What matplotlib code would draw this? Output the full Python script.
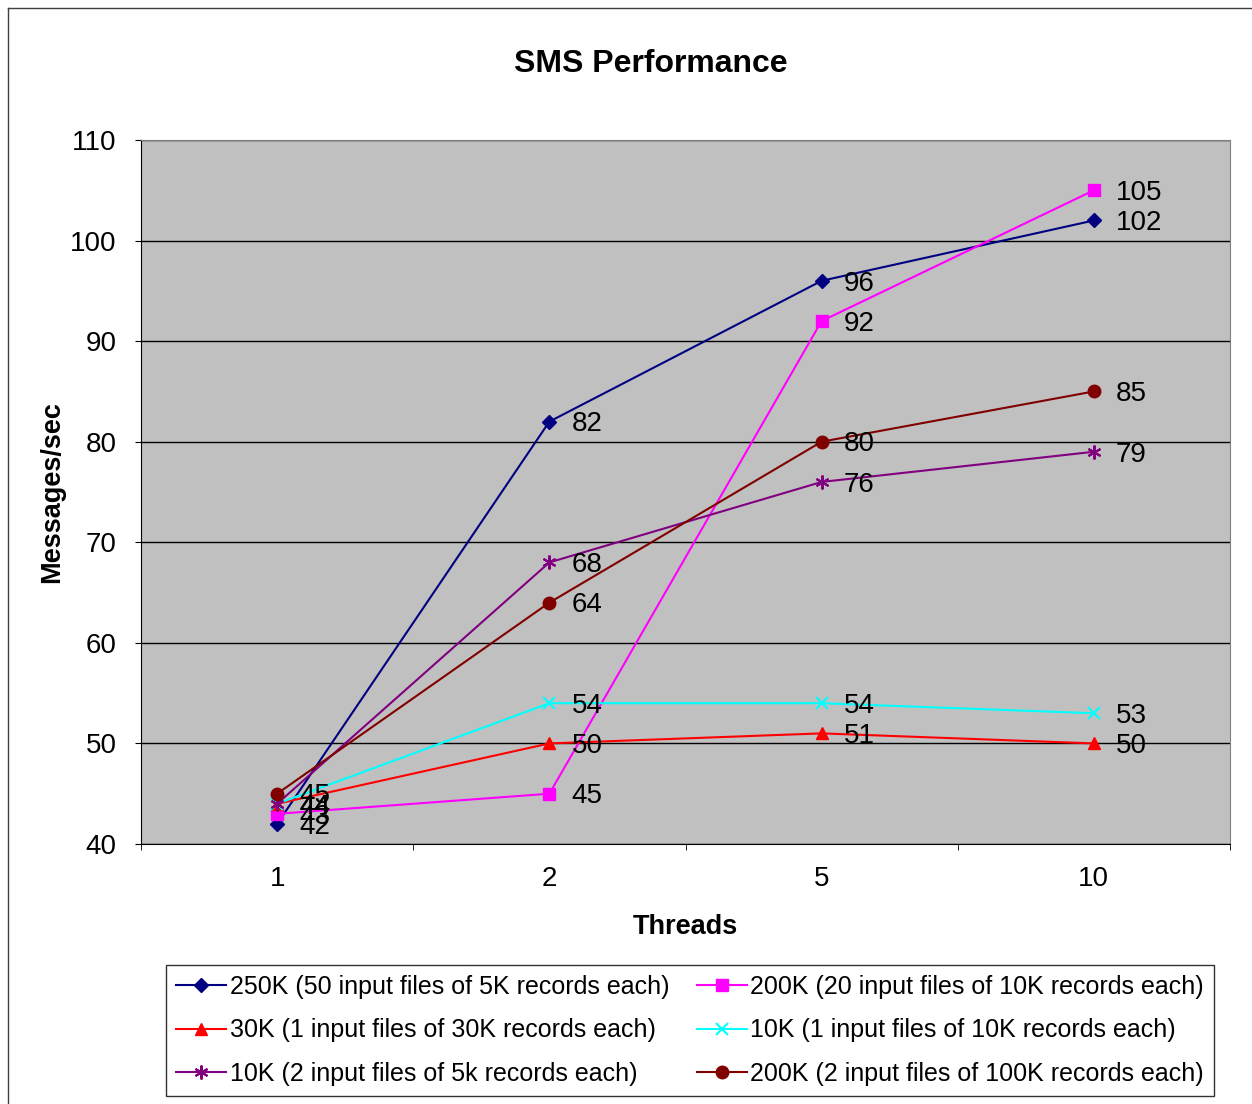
import matplotlib
matplotlib.use("Agg")
import matplotlib.pyplot as plt
from matplotlib.lines import Line2D

plt.rcParams['font.family'] = ['Liberation Sans', 'DejaVu Sans']

threads = ["1", "2", "5", "10"]
s250k = [42, 82, 96, 102]
s200k_20 = [43, 45, 92, 105]
s30k = [44, 50, 51, 50]
s10k_1 = [44, 54, 54, 53]
s10k_2 = [44, 68, 76, 79]
s200k_2 = [45, 64, 80, 85]

series = [
    ("250K (50 input files of 5K records each)", s250k, "#000080", "D", 7),
    ("200K (20 input files of 10K records each)", s200k_20, "#FF00FF", "s", 9),
    ("30K (1 input files of 30K records each)", s30k, "#FF0000", "^", 9),
    ("10K (1 input files of 10K records each)", s10k_1, "#00FFFF", "x", 9),
    ("10K (2 input files of 5k records each)", s10k_2, "#800080", (6, 2, 0), 10),
    ("200K (2 input files of 100K records each)", s200k_2, "#800000", "o", 9),
]

W, H = 1252, 1104
fig = plt.figure(figsize=(W / 100, H / 100), dpi=100)
ax = fig.add_axes([141 / W, 1 - 844 / H, (1230 - 141) / W, (844 - 140) / H])
ax.set_facecolor("#C0C0C0")

xs = list(range(len(threads)))
handles = []
for name, vals, col, mk, ms in series:
    ln, = ax.plot(xs, vals, color=col, marker=mk, markersize=ms, linewidth=1.5,
                  markeredgewidth=1.5 if mk in ("x", (6, 2, 0)) else 1,
                  label=name, zorder=3, clip_on=False)
    handles.append(ln)
    for x, v in zip(xs, vals):
        ax.annotate(str(v), (x, v), xytext=(16, -2), textcoords="offset points",
                    va="center", ha="left", fontsize=20, zorder=4)

ax.set_xlim(-0.5, len(threads) - 0.5)
ax.set_ylim(40, 110)
ax.set_yticks(range(40, 111, 10))
ax.set_xticks(xs)
ax.set_xticklabels(threads)
ax.set_xticks([i - 0.5 for i in range(len(threads) + 1)], minor=True)
ax.tick_params(axis="x", which="major", length=0, labelsize=20, pad=16)
ax.tick_params(axis="x", which="minor", length=4.5, direction="out", color="black")
ax.tick_params(axis="y", length=4.5, direction="out", labelsize=20, pad=13)
ax.yaxis.grid(True, color="black", linewidth=1)
ax.set_axisbelow(True)
for s in ("top", "right"):
    ax.spines[s].set_color("#808080")
ax.spines["left"].set_color("black")
ax.spines["bottom"].set_color("black")

ax.set_xlabel("Threads", fontsize=19.5, fontweight="bold", labelpad=16)
ax.set_ylabel("Messages/sec", fontsize=19.5, fontweight="bold", labelpad=4)
fig.text(651 / W, 1 - 64 / H, "SMS Performance", fontsize=23, fontweight="bold",
         ha="center", va="center")

# legend
order = [0, 2, 4, 1, 3, 5]
leg = fig.legend([handles[i] for i in order], [series[i][0] for i in order],
                 ncol=2, loc="upper left", bbox_to_anchor=(166 / W, 1 - 965 / H),
                 fontsize=18, frameon=True, fancybox=False, edgecolor="black",
                 handlelength=2.0, handletextpad=0.15, columnspacing=1.1,
                 labelspacing=0.78, borderpad=0.4, borderaxespad=0)
leg.get_frame().set_linewidth(1)

# outer chart frame
fig.add_artist(Line2D([8 / W, 1], [1 - 8 / H, 1 - 8 / H], color="#404040", linewidth=1))
fig.add_artist(Line2D([8 / W, 8 / W], [0, 1 - 8 / H], color="#404040", linewidth=1))

fig.savefig("out.png", dpi=100)
